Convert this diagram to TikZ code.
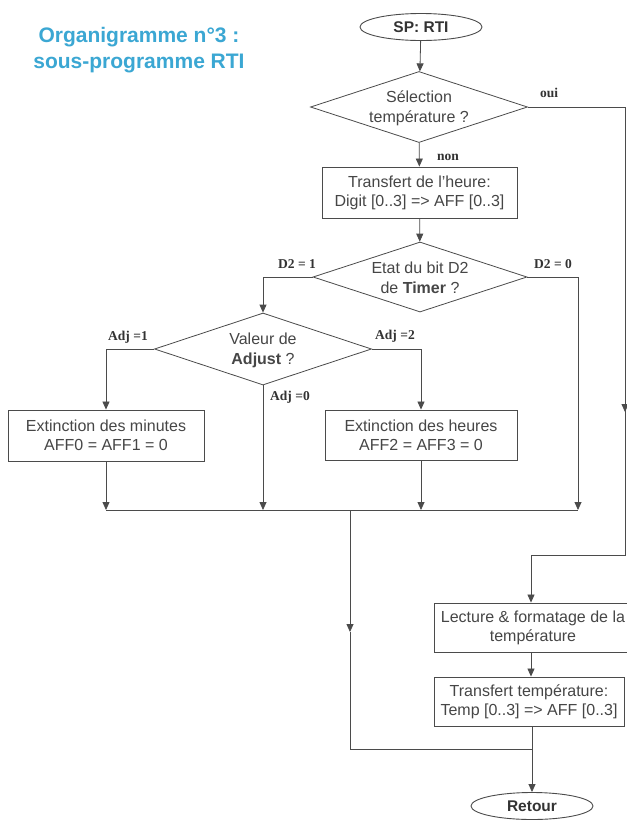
\documentclass[tikz,border=0pt]{standalone}
\usepackage{fontspec}
\setmainfont{Liberation Sans}
\newfontfamily\lblfont{Liberation Serif}
\usetikzlibrary{shapes.geometric,arrows.meta}
\definecolor{titlecol}{RGB}{59,167,211}
\definecolor{linecol}{RGB}{75,75,75}
\definecolor{txtcol}{RGB}{70,70,70}
\begin{document}
\begin{tikzpicture}[x=1pt,y=-1pt,
 conn/.style={draw=linecol,line width=0.8pt},
 arr/.style={conn,-{Triangle[length=8pt,width=7pt]}},
 procbox/.style={draw=linecol,line width=0.9pt,rectangle,inner sep=0pt,align=center,font=\fontsize{16}{19}\selectfont,text=txtcol},
 decis/.style={draw=linecol,line width=0.8pt,diamond,aspect=3,inner sep=0pt,align=center,font=\fontsize{16}{20}\selectfont,text=txtcol},
 term/.style={draw=linecol,line width=0.9pt,ellipse,inner sep=0pt,font=\bfseries\fontsize{15.5}{18}\selectfont,text=black!80},
 lbl/.style={font=\lblfont\bfseries\fontsize{13.5}{15}\selectfont,text=black!80,inner sep=0pt},
 titlestyle/.style={font=\bfseries\fontsize{21}{26}\selectfont,text=titlecol,align=center}]
\useasboundingbox (0,0) rectangle (627,820);
\begin{scope}
\clip (0,0) rectangle (627,820);
\fill[white] (0,0) rectangle (627,820);
\node[titlestyle] (ttl) at (139,50) {Organigramme n°3 :\\sous-programme RTI};
\node[term,minimum width=122pt,minimum height=27pt] (sp) at (421,27) {SP: RTI};
\node[decis,minimum width=217pt,minimum height=71pt] (d1) at (419,107) {\strut Sélection\\température ?};
\node[procbox,minimum width=195pt,minimum height=51pt] (b1) at (419.5,192.5) {Transfert de l'heure:\\Digit [0..3] => AFF [0..3]};
\node[decis,minimum width=214pt,minimum height=70pt] (d2) at (420,277) {\strut Etat du bit D2\\de \textbf{Timer} ?};
\node[decis,minimum width=217pt,minimum height=72pt] (d3) at (263,349) {\strut Valeur de\\\textbf{Adjust} ?};
\node[procbox,minimum width=196pt,minimum height=51pt] (bm) at (106,435.5) {Extinction des minutes\\AFF0 = AFF1 = 0};
\node[procbox,minimum width=192pt,minimum height=50pt] (bh) at (421,435) {Extinction des heures\\AFF2 = AFF3 = 0};
\node[procbox,minimum width=198pt,minimum height=49pt] (bl) at (533,627.5) {Lecture \& formatage de la\\température};
\node[procbox,minimum width=190pt,minimum height=49pt] (bt) at (529,701.5) {Transfert température:\\Temp [0..3] => AFF [0..3]};
\node[term,minimum width=122pt,minimum height=27pt] (ret) at (532,806) {Retour};

\node[lbl] (loui) at (549,93) {oui};
\node[lbl] (lnon) at (448,157) {non};
\node[lbl] (ld21) at (297,264) {D2 = 1};
\node[lbl] (ld20) at (553,264) {D2 = 0};
\node[lbl] (la1) at (128,337) {Adj =1};
\node[lbl] (la2) at (395,336) {Adj =2};
\node[lbl] (la0) at (290,397) {Adj =0};

\coordinate (c1) at (625,107);
\coordinate (c2) at (625,412);
\coordinate (c3) at (625,555);
\coordinate (c4) at (531,555);
\coordinate (dr) at (578,277);
\coordinate (jm) at (106,510);
\coordinate (ja) at (263,510);
\coordinate (jh) at (421,510);
\coordinate (jd) at (578,510);
\coordinate (jc) at (350,510);
\coordinate (jv) at (350,632);
\coordinate (jb) at (350,749);

\draw[arr] (sp) -- (d1);
\draw[arr] (d1) -- (b1);
\draw[arr] (b1) -- (d2);
\draw[arr] (d2.west) -- (d2.west -| d3.north) -- (d3.north);
\draw[conn] (d2.east) -- (dr) -- (jd |- bh.north);
\draw[arr] (jd |- bh.north) -- (jd);
\draw[arr] (d3.west) -- (d3.west -| bm.north) -- (bm.north);
\draw[arr] (d3.east) -- (d3.east -| bh.north) -- (bh.north);
\draw[arr] (d3.south) -- (ja);
\draw[arr] (bm.south) -- (jm);
\draw[arr] (bh.south) -- (jh);
\draw[conn] (jm) -- (jd);
\draw[arr] (jc) -- (jv);
\draw[conn] (jv) -- (jb) -- (jb -| ret.north);
\draw[conn] (d1.east) -- (c1) -- (c2);
\draw[arr] (c1) -- (c2);
\draw[conn] (c2) -- (c3) -- (c4);
\draw[arr] (c4) -- (c4 |- bl.north);
\draw[arr] (bl.south -| c4) -- (c4 |- bt.north);
\draw[arr] (bt.south -| ret.north) -- (ret.north);
\end{scope}
\end{tikzpicture}
\end{document}
